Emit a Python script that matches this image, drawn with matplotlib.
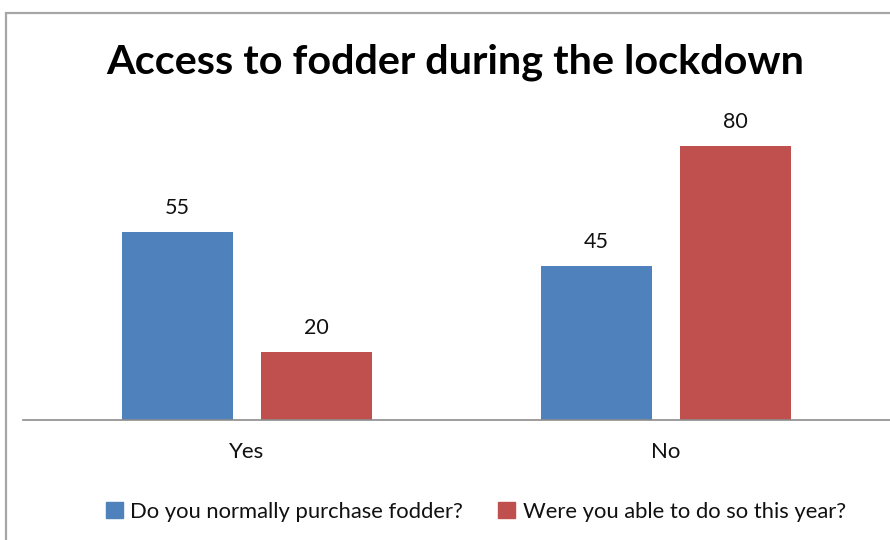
import matplotlib
matplotlib.use("Agg")
import matplotlib.pyplot as plt
from matplotlib.patches import Rectangle, Patch
import numpy as np

categories = ["Yes", "No"]
series_names = ["Do you normally purchase fodder?", "Were you able to do so this year?"]
purchase = [55, 45]
able = [20, 80]
colors = ["#4F81BD", "#C0504D"]

plt.rcParams['font.family'] = ['Lato', 'DejaVu Sans']

W, H = 890, 540
fig = plt.figure(figsize=(W / 100, H / 100), dpi=100)

# outer border (chart area frame)
fig.patches.append(Rectangle((6 / W, -0.1), 1.2, 1 - 13 / H + 0.1, transform=fig.transFigure,
                             fill=False, edgecolor="#a6a6a6", linewidth=1.6))

ax = fig.add_axes([23 / W, 1 - 420 / H, 867 / W, (420 - 111.75) / H])
x = np.arange(len(categories))
bw = 0.265
off = 0.166
b1 = ax.bar(x - off, purchase, bw, color=colors[0], label=series_names[0])
b2 = ax.bar(x + off, able, bw, color=colors[1], label=series_names[1])
for bars, vals in ((b1, purchase), (b2, able)):
    for rect, v in zip(bars, vals):
        ax.text(rect.get_x() + rect.get_width() / 2, v + 4.0, str(v), ha="center", va="bottom",
                fontsize=15.5, color="#111111")

ax.set_xlim(-0.535, 1.535)
ax.set_ylim(0, 90)
ax.set_yticks([])
ax.set_xticks(x)
ax.set_xticklabels(categories, fontsize=16, color="#111111")
ax.tick_params(axis="x", length=0, pad=16)
for s in ("top", "right", "left"):
    ax.spines[s].set_visible(False)
ax.spines["bottom"].set_color("#8c8c8c")
ax.spines["bottom"].set_linewidth(1.2)

fig.text(455 / W, 1 - 62 / H, "Access to fodder during the lockdown", ha="center", va="center",
         fontsize=29.8, fontweight="bold", color="black")

handles = [Patch(color=colors[0], label=series_names[0]), Patch(color=colors[1], label=series_names[1])]
fig.legend(handles=handles, loc="center", bbox_to_anchor=(476 / W, 1 - 512 / H), ncol=2,
           frameon=False, fontsize=15.8, handlelength=0.75, handleheight=0.75, handletextpad=0.35,
           columnspacing=1.6, labelcolor="#111111")

fig.savefig("out.png", dpi=100)
